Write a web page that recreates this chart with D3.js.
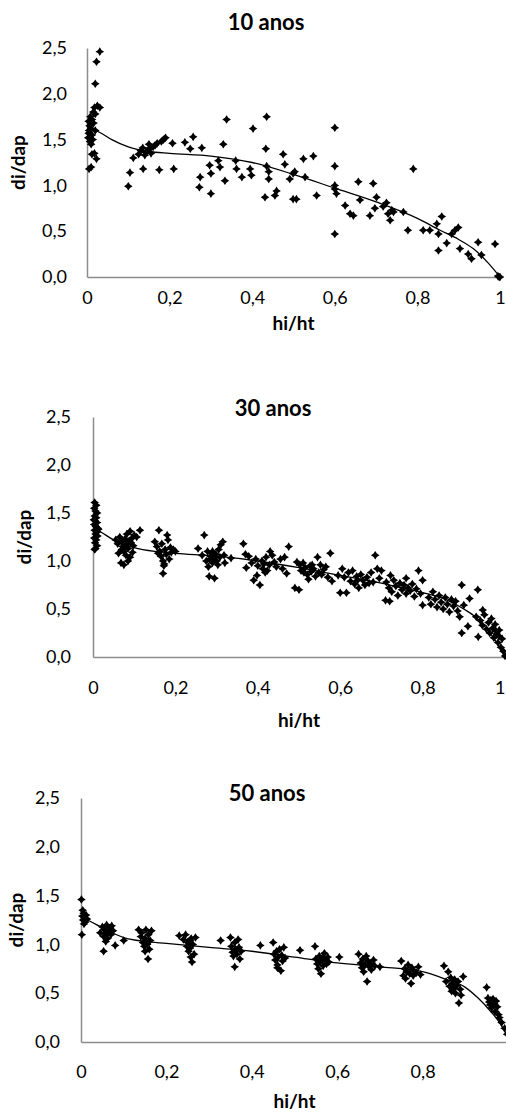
<!DOCTYPE html>
<html>
<head>
<meta charset="utf-8">
<script src="https://cdn.jsdelivr.net/npm/d3@7"></script>
<style>
  body { margin: 0; background: #fff; }
  svg { display: block; font-family: Lato, "Open Sans", sans-serif; }
  .title { font-weight: bold; font-size: 22px; text-anchor: middle; }
  .axisTitle { font-weight: bold; font-size: 19px; text-anchor: middle; }
  .tick text { font-size: 18px; fill: #000; font-family: Lato, "Open Sans", sans-serif; }
  .domain { stroke: #8c8c8c; stroke-width: 1.5; }
</style>
</head>
<body>
<svg id="chart" width="506" height="1112"></svg>
<script>
var titles = ["10 anos", "30 anos", "50 anos"];
var yTicks = [0, 0.5, 1, 1.5, 2, 2.5];
var xTicks = [0, 0.2, 0.4, 0.6, 0.8, 1];
var xTicks50 = [0, 0.2, 0.4, 0.6, 0.8];

// 10 anos - observed points [hi/ht, di/dap]
var pts10 = [
  [0.003,1.52],[0.005,1.6],[0.006,1.65],[0.004,1.7],[0.008,1.75],[0.01,1.62],[0.012,1.55],[0.007,1.48],
  [0.01,1.45],[0.015,1.8],[0.018,1.85],[0.02,1.78],[0.012,1.72],[0.016,1.68],[0.02,1.6],[0.025,1.87],
  [0.031,1.85],[0.02,2.11],[0.023,2.35],[0.031,2.46],[0.012,1.34],[0.018,1.35],[0.023,1.29],[0.005,1.18],
  [0.01,1.2],[0.004,1.57],[0.009,1.67],[0.014,1.5],
  [0.1,0.99],[0.104,1.14],[0.112,1.3],[0.125,1.34],[0.13,1.38],[0.135,1.41],[0.14,1.33],[0.145,1.37],
  [0.15,1.4],[0.155,1.35],[0.16,1.42],[0.136,1.18],[0.175,1.17],[0.165,1.44],[0.17,1.46],[0.18,1.48],
  [0.185,1.5],[0.19,1.52],[0.207,1.46],[0.21,1.18],[0.15,1.45],[0.142,1.36],
  [0.237,1.47],[0.257,1.53],[0.25,1.4],[0.278,1.41],[0.274,1.09],[0.272,0.98],[0.3,0.91],[0.297,1.22],
  [0.3,1.13],[0.318,1.27],[0.322,1.2],[0.33,1.45],[0.338,1.72],[0.334,1.05],[0.36,1.27],[0.362,1.18],
  [0.375,1.09],[0.395,1.18],[0.398,1.11],[0.402,1.62],[0.435,1.75],[0.433,1.4],[0.435,1.21],[0.44,1.15],
  [0.44,1.07],[0.431,0.87],[0.455,0.89],[0.459,0.94],[0.475,1.34],[0.479,1.23],[0.491,1.07],[0.499,1.13],
  [0.503,1.15],[0.499,0.85],[0.507,0.85],[0.524,1.29],[0.528,1.09],[0.548,1.32],[0.556,0.89],
  [0.6,1.63],[0.6,1.21],[0.6,1.0],[0.6,0.96],[0.604,0.91],[0.6,0.47],[0.625,0.78],[0.637,0.69],
  [0.645,0.67],[0.657,1.04],[0.661,0.84],[0.685,0.67],[0.693,1.02],[0.701,0.87],[0.697,0.75],[0.717,0.77],
  [0.725,0.81],[0.729,0.69],[0.734,0.62],[0.738,0.73],[0.742,0.71],[0.766,0.71],[0.777,0.51],[0.79,1.18],
  [0.814,0.51],[0.83,0.51],[0.847,0.58],[0.851,0.47],[0.851,0.29],[0.859,0.66],[0.871,0.37],[0.883,0.47],
  [0.891,0.51],[0.899,0.54],[0.903,0.31],[0.923,0.25],[0.931,0.2],[0.947,0.38],[0.955,0.24],[0.988,0.36],
  [0.995,0.01],[0.998,0.0],[1.0,0.0]
];
var curve10 = [[0,1.63],[0.03,1.58],[0.06,1.5],[0.1,1.42],[0.15,1.37],[0.2,1.35],[0.3,1.32],[0.4,1.25],
  [0.5,1.12],[0.6,0.97],[0.7,0.82],[0.8,0.64],[0.855,0.51],[0.9,0.41],[0.935,0.31],[0.97,0.16],[1,0]];

// 30 anos
var pts30 = [
  [0.004,1.61],[0.008,1.58],[0.003,1.55],[0.006,1.52],[0.01,1.5],[0.004,1.47],[0.008,1.45],[0.005,1.42],
  [0.01,1.4],[0.003,1.38],[0.007,1.36],[0.012,1.34],[0.004,1.32],[0.009,1.3],[0.006,1.28],[0.011,1.26],
  [0.003,1.24],[0.008,1.22],[0.005,1.19],[0.01,1.16],[0.006,1.13],[0.004,1.12],[0.013,1.33],[0.002,1.43],
  [0.055,1.22],[0.06,1.18],[0.065,1.25],[0.07,1.2],[0.072,1.15],[0.075,1.1],[0.078,1.23],[0.08,1.17],
  [0.082,1.28],[0.085,1.13],[0.088,1.21],[0.09,1.31],[0.092,1.19],[0.095,1.24],[0.098,1.16],[0.1,1.27],
  [0.062,1.08],[0.068,0.98],[0.075,0.96],[0.085,1.0],[0.09,1.04],[0.096,1.09],[0.106,1.25],[0.114,1.32],
  [0.07,1.12],[0.08,1.06],
  [0.15,1.2],[0.155,1.15],[0.16,1.32],[0.162,1.1],[0.165,1.05],[0.167,1.18],[0.17,1.0],[0.172,0.95],
  [0.17,0.87],[0.175,1.12],[0.178,1.07],[0.18,1.27],[0.182,1.22],[0.185,1.02],[0.188,1.14],[0.19,1.09],
  [0.195,1.12],[0.2,1.1],[0.158,1.08],[0.173,0.97],
  [0.255,1.13],[0.265,1.06],[0.27,1.27],[0.275,1.0],[0.278,1.1],[0.28,0.94],[0.282,0.84],[0.285,1.05],
  [0.288,1.08],[0.29,0.98],[0.292,1.03],[0.295,0.82],[0.298,1.07],[0.3,1.0],[0.303,0.96],[0.305,1.12],
  [0.308,1.04],[0.31,1.17],[0.315,1.2],[0.318,1.06],[0.32,0.98],[0.335,1.03],[0.29,1.1],[0.283,1.02],
  [0.365,1.18],[0.37,1.07],[0.372,0.93],[0.378,1.05],[0.385,0.98],[0.39,0.8],[0.395,1.02],[0.398,0.85],
  [0.4,0.95],[0.405,0.75],[0.41,1.0],[0.412,0.92],[0.415,0.97],[0.42,1.04],[0.423,0.9],[0.428,0.96],
  [0.43,1.1],[0.435,1.06],[0.44,0.99],[0.445,0.94],[0.455,1.02],[0.46,0.92],[0.465,1.04],[0.47,0.87],
  [0.475,1.15],[0.418,0.88],
  [0.49,0.72],[0.495,0.99],[0.5,0.7],[0.502,0.96],[0.505,0.9],[0.51,0.98],[0.515,0.93],[0.52,0.86],
  [0.523,0.81],[0.527,0.95],[0.53,0.89],[0.535,0.92],[0.54,0.84],[0.545,1.04],[0.548,0.88],[0.552,0.96],
  [0.555,0.86],[0.56,0.91],[0.565,0.94],[0.57,0.83],[0.576,1.08],[0.58,0.79],[0.512,0.88],[0.532,0.96],
  [0.595,0.85],[0.6,0.67],[0.605,0.92],[0.61,0.83],[0.615,0.67],[0.62,0.88],[0.625,0.79],[0.63,0.9],
  [0.635,0.76],[0.64,0.84],[0.645,0.72],[0.65,0.86],[0.655,0.8],[0.66,0.75],[0.665,0.83],[0.67,0.77],
  [0.675,0.88],[0.68,0.78],[0.685,1.06],[0.69,0.92],[0.695,0.82],[0.7,0.9],[0.71,0.59],[0.72,0.58],
  [0.642,0.8],
  [0.712,0.78],[0.718,0.72],[0.722,0.85],[0.725,0.68],[0.73,0.8],[0.735,0.74],[0.74,0.64],[0.745,0.77],
  [0.75,0.7],[0.755,0.75],[0.76,0.66],[0.765,0.72],[0.77,0.69],[0.775,0.76],[0.78,0.63],[0.785,0.71],
  [0.79,0.9],[0.795,0.66],[0.8,0.8],[0.8,0.54],[0.76,0.82],
  [0.815,0.62],[0.82,0.55],[0.825,0.68],[0.83,0.6],[0.835,0.52],[0.84,0.64],[0.845,0.57],[0.85,0.5],
  [0.855,0.62],[0.86,0.55],[0.865,0.47],[0.87,0.6],[0.875,0.53],[0.88,0.58],[0.885,0.48],[0.895,0.75],
  [0.89,0.42],[0.91,0.32],[0.895,0.25],[0.914,0.61],[0.9,0.54],
  [0.934,0.7],[0.946,0.49],[0.935,0.21],[0.93,0.42],[0.94,0.38],[0.945,0.33],[0.95,0.44],[0.955,0.29],
  [0.96,0.36],[0.963,0.25],[0.967,0.4],[0.97,0.3],[0.973,0.2],[0.976,0.34],[0.98,0.24],[0.983,0.15],
  [0.986,0.28],[0.99,0.1],[0.993,0.19],[0.996,0.06],[1.0,0.01],[0.985,0.22],[0.978,0.27]
];
var curve30 = [[0,1.35],[0.02,1.3],[0.05,1.22],[0.1,1.14],[0.15,1.1],[0.2,1.08],[0.3,1.05],[0.4,1.0],
  [0.5,0.93],[0.6,0.85],[0.7,0.77],[0.75,0.72],[0.8,0.67],[0.85,0.61],[0.9,0.5],[0.93,0.41],[0.96,0.27],
  [0.98,0.15],[1,0]];

// 50 anos
var pts50 = [
  [0.001,1.46],[0.004,1.35],[0.006,1.32],[0.003,1.29],[0.008,1.27],[0.005,1.25],[0.01,1.23],[0.012,1.3],
  [0.007,1.21],[0.002,1.1],[0.014,1.26],
  [0.045,1.12],[0.05,1.18],[0.053,1.08],[0.055,1.15],[0.058,1.11],[0.06,1.2],[0.062,1.06],[0.065,1.13],
  [0.068,1.17],[0.07,1.1],[0.072,1.19],[0.075,1.14],[0.053,0.93],[0.08,0.99],[0.1,1.04],[0.058,1.03],
  [0.135,1.15],[0.14,1.08],[0.142,1.12],[0.145,1.02],[0.148,0.98],[0.15,1.06],[0.152,1.15],[0.155,1.0],
  [0.157,0.85],[0.158,1.1],[0.16,0.95],[0.162,1.04],[0.165,1.14],[0.15,0.93],
  [0.23,1.09],[0.24,1.05],[0.245,1.1],[0.248,0.98],[0.25,1.02],[0.252,0.93],[0.255,0.96],[0.257,0.87],
  [0.258,1.06],[0.26,0.82],[0.262,1.0],[0.265,0.9],[0.268,1.07],[0.255,1.04],
  [0.327,1.04],[0.35,1.07],[0.352,0.98],[0.355,0.92],[0.357,0.88],[0.36,0.77],[0.36,1.02],[0.362,0.95],
  [0.365,0.9],[0.368,1.05],[0.37,0.97],[0.372,0.85],[0.375,0.93],
  [0.42,0.99],[0.45,1.02],[0.452,0.9],[0.455,0.84],[0.458,0.93],[0.46,0.79],[0.462,0.87],[0.465,0.95],
  [0.468,0.73],[0.47,0.89],[0.472,0.83],[0.475,0.97],[0.478,0.86],[0.46,0.76],
  [0.513,0.94],[0.548,0.98],[0.55,0.85],[0.553,0.8],[0.556,0.75],[0.558,0.88],[0.56,0.82],[0.562,0.7],
  [0.565,0.86],[0.567,0.78],[0.57,0.91],[0.572,0.84],[0.575,0.8],[0.578,0.87],[0.58,0.82],[0.605,0.87],
  [0.65,0.9],[0.655,0.81],[0.658,0.76],[0.66,0.85],[0.662,0.72],[0.665,0.79],[0.668,0.88],[0.67,0.62],
  [0.672,0.83],[0.675,0.77],[0.678,0.8],[0.68,0.74],[0.685,0.84],[0.688,0.78],[0.7,0.77],
  [0.75,0.83],[0.755,0.68],[0.758,0.75],[0.76,0.65],[0.763,0.72],[0.766,0.79],[0.77,0.7],[0.773,0.6],
  [0.775,0.76],[0.778,0.68],[0.78,0.73],[0.785,0.71],[0.79,0.77],[0.795,0.69],
  [0.85,0.78],[0.855,0.62],[0.86,0.72],[0.863,0.57],[0.866,0.66],[0.868,0.52],[0.87,0.6],[0.873,0.55],
  [0.875,0.64],[0.877,0.5],[0.88,0.58],[0.883,0.62],[0.885,0.4],[0.888,0.54],[0.89,0.48],[0.895,0.67],
  [0.95,0.56],[0.953,0.45],[0.956,0.41],[0.958,0.38],[0.96,0.43],[0.962,0.35],[0.965,0.44],[0.968,0.39],
  [0.97,0.31],[0.972,0.42],[0.975,0.36],[0.978,0.28],[0.98,0.25],[0.985,0.2],[0.992,0.14],[0.998,0.08]
];
var curve50 = [[0,1.28],[0.02,1.24],[0.05,1.17],[0.1,1.07],[0.15,1.03],[0.2,1.01],[0.3,0.97],[0.4,0.93],
  [0.5,0.87],[0.6,0.81],[0.7,0.77],[0.8,0.72],[0.85,0.65],[0.9,0.56],[0.93,0.45],[0.96,0.31],
  [0.98,0.2],[1,0.05]];

var locale = d3.formatLocale({decimal: ",", thousands: ".", grouping: [3], currency: ["", ""]});
var f1 = locale.format(".1f");

// 4-point star marker
function star(cx, cy){
  var r = 4.3, q = 1.7;
  return "M" + cx + "," + (cy - r) + "L" + (cx + q) + "," + (cy - q) + "L" + (cx + r) + "," + cy +
    "L" + (cx + q) + "," + (cy + q) + "L" + cx + "," + (cy + r) + "L" + (cx - q) + "," + (cy + q) +
    "L" + (cx - r) + "," + cy + "L" + (cx - q) + "," + (cy - q) + "Z";
}

var svg = d3.select('#chart');

function panel(c){
  var x = d3.scaleLinear().domain([0, 1]).range([c.left, c.right]);
  var y = d3.scaleLinear().domain([0, 2.5]).range([c.bottom, c.top]);
  var g = svg.append('g');

  g.append('g')
    .attr('transform', 'translate(' + c.left + ',0)')
    .call(d3.axisLeft(y).tickValues(yTicks).tickSize(0).tickSizeOuter(0).tickPadding(c.yPad).tickFormat(f1));

  var xg = g.append('g')
    .attr('transform', 'translate(0,' + c.bottom + ')')
    .call(d3.axisBottom(x).tickValues(c.xTicks).tickSize(0).tickSizeOuter(0).tickPadding(c.xPad)
      .tickFormat(function(d){ return d === 0 ? '0' : d === 1 ? '1' : f1(d); }));

  // keep the last label inside the window
  xg.selectAll('.tick text')
    .filter(function(d){ return x(d) > 502; })
    .attr('text-anchor', 'end')
    .attr('dx', 506 - x(1) - 1);

  g.selectAll('.domain').attr('stroke', '#8c8c8c');

  g.append('path')
    .datum(c.curve)
    .attr('fill', 'none')
    .attr('stroke', '#000')
    .attr('stroke-width', 1.3)
    .attr('d', d3.line().curve(d3.curveMonotoneX)
      .x(function(d){ return x(d[0]); })
      .y(function(d){ return y(d[1]); }));

  g.selectAll('.pt')
    .data(c.pts)
    .enter().append('path')
      .attr('class', 'pt')
      .attr('fill', '#000')
      .attr('d', function(d){ return star(x(d[0]), y(d[1])); });

  g.append('text').attr('class', 'title')
    .attr('x', c.titleX).attr('y', c.titleY).text(c.title);

  g.append('text').attr('class', 'axisTitle')
    .attr('x', (c.left + c.right) / 2).attr('y', c.xTitleY).text('hi/ht');

  g.append('text').attr('class', 'axisTitle')
    .attr('transform', 'translate(' + c.yTitleX + ',' + ((c.top + c.bottom) / 2) + ') rotate(-90)')
    .text('di/dap');
}

panel({title: titles[0], pts: pts10, curve: curve10, xTicks: xTicks,
  left: 87, right: 500, top: 48, bottom: 277, xPad: 14, yPad: 20,
  titleX: 266, titleY: 30, xTitleY: 330, yTitleX: 25});
panel({title: titles[1], pts: pts30, curve: curve30, xTicks: xTicks,
  left: 93, right: 505, top: 417, bottom: 657, xPad: 24, yPad: 22,
  titleX: 273, titleY: 416, xTitleY: 727, yTitleX: 31});
panel({title: titles[2], pts: pts50, curve: curve50, xTicks: xTicks50,
  left: 81, right: 508, top: 798, bottom: 1042, xPad: 23, yPad: 21,
  titleX: 267, titleY: 801, xTitleY: 1108, yTitleX: 23});
</script>
</body>
</html>
